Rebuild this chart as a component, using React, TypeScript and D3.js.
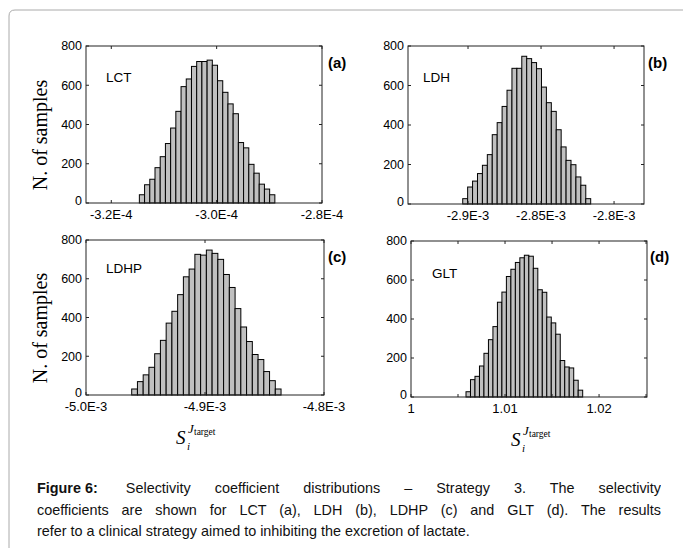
import React from "react";
import * as d3 from "d3";

// histogram counts (left to right)
const countsA = [42, 93, 121, 180, 236, 303, 382, 467, 593, 632, 696, 721, 721, 728, 702, 623, 564, 505, 455, 308, 281, 197, 152, 96, 71, 42];
const countsB = [27, 86, 116, 154, 196, 250, 351, 412, 494, 576, 687, 687, 748, 736, 716, 685, 592, 513, 469, 376, 289, 221, 199, 137, 95, 27];
const countsC = [31, 69, 104, 143, 213, 282, 371, 432, 518, 610, 650, 726, 722, 748, 731, 700, 622, 555, 446, 351, 276, 209, 183, 121, 74, 31];
const countsD = [27, 89, 106, 159, 224, 294, 361, 486, 538, 618, 655, 690, 714, 727, 722, 660, 550, 537, 410, 380, 322, 187, 154, 149, 86, 35];

// range covered by the bins [first edge, last edge]
const binsA = [-3.1467e-4, -2.8895e-4];
const binsB = [-2.90363e-3, -2.816e-3];
const binsC = [-4.9616e-3, -4.8361e-3];
const binsD = [1.00585, 1.01826];

const xDomA = [-3.248e-4, -2.8e-4];
const xDomB = [-2.9411e-3, -2.7795e-3];
const xDomC = [-5.0e-3, -4.8e-3];
const xDomD = [1.0, 1.0251];

const ticksA = [-3.2e-4, -3.0e-4, -2.8e-4];
const tickLabelsA = ["-3.2E-4", "-3.0E-4", "-2.8E-4"];
const ticksB = [-2.9e-3, -2.85e-3, -2.8e-3];
const tickLabelsB = ["-2.9E-3", "-2.85E-3", "-2.8E-3"];
const ticksC = [-5.0e-3, -4.9e-3, -4.8e-3];
const tickLabelsC = ["-5.0E-3", "-4.9E-3", "-4.8E-3"];
const ticksD = [1.0, 1.005, 1.01, 1.015, 1.02, 1.025];
const tickLabelsD = ["1", "", "1.01", "", "1.02", ""];

const yTicks = [0, 200, 400, 600, 800];

const names = ["LCT", "LDH", "LDHP", "GLT"];
const letters = ["(a)", "(b)", "(c)", "(d)"];

const captionLines = [
  "Selectivity coefficient distributions \u2013 Strategy 3. The selectivity",
  "coefficients are shown for LCT (a), LDH (b), LDHP (c) and GLT (d). The results",
  "refer to a clinical strategy aimed to inhibiting the excretion of lactate.",
];

const sans = "Arial, 'Liberation Sans', sans-serif";
const serif = "'Times New Roman', 'Liberation Serif', serif";

function Panel(props) {
  const { x0, x1, y0, y1, xDom, bins, counts, ticks, tickLabels, name, letter, nameX, nameY, letterX, letterY } = props;
  const x = d3.scaleLinear().domain(xDom).range([x0, x1]);
  const y = d3.scaleLinear().domain([0, 800]).range([y1, y0]);
  const edges = d3.scaleLinear().domain([0, counts.length]).range(bins);
  const tl = 3;
  return (
    <g>
      {counts.map((c, i) => (
        <rect
          key={i}
          x={x(edges(i))}
          y={y(c)}
          width={x(edges(i + 1)) - x(edges(i))}
          height={y(0) - y(c)}
          fill="#c0c0c0"
          stroke="#000"
          strokeWidth={1}
        />
      ))}
      <rect x={x0} y={y0} width={x1 - x0} height={y1 - y0} fill="none" stroke="#222" strokeWidth={1} />
      {yTicks.map((t) => (
        <g key={t}>
          <line x1={x0} x2={x0 + tl} y1={y(t)} y2={y(t)} stroke="#222" />
          <line x1={x1} x2={x1 - tl} y1={y(t)} y2={y(t)} stroke="#222" />
          <text x={x0 - 4} y={y(t) - (t === 0 ? 2 : 0)} dy="0.35em" textAnchor="end" fontFamily={sans} fontSize={12.5}>
            {t}
          </text>
        </g>
      ))}
      {ticks.map((t, i) => (
        <g key={i}>
          <line x1={x(t)} x2={x(t)} y1={y1} y2={y1 - tl} stroke="#222" />
          <line x1={x(t)} x2={x(t)} y1={y0} y2={y0 + tl} stroke="#222" />
          <text x={x(t)} y={y1 + 16} textAnchor="middle" fontFamily={sans} fontSize={13}>
            {tickLabels[i]}
          </text>
        </g>
      ))}
      <text x={nameX} y={nameY} dy="0.35em" fontFamily={sans} fontSize={13.5}>
        {name}
      </text>
      <text x={letterX} y={letterY} dy="0.35em" fontFamily={sans} fontSize={15} fontWeight="bold">
        {letter}
      </text>
    </g>
  );
}

function XLabel({ x, y }) {
  return (
    <g fontFamily={serif}>
      <text x={x} y={y} fontSize={19} fontStyle="italic">S</text>
      <text x={x + 11} y={y + 6} fontSize={11} fontStyle="italic">i</text>
      <text x={x + 12} y={y - 11} fontSize={13} fontStyle="italic">J</text>
      <text x={x + 18} y={y - 9} fontSize={9.5}>target</text>
    </g>
  );
}

export default function App() {
  return (
    <svg width={683} height={548} style={{ position: "absolute", left: 0, top: 0, background: "#fff" }}>
      <path d="M 9 700 L 9 16 Q 9 10 15 10 L 700 10" fill="none" stroke="#aaa" strokeWidth={1} />
      <Panel x0={86} x1={322} y0={46} y1={203} xDom={xDomA} bins={binsA} counts={countsA} ticks={ticksA} tickLabels={tickLabelsA}
        name={names[0]} letter={letters[0]} nameX={106} nameY={77} letterX={328} letterY={63} />
      <Panel x0={408} x1={644} y0={46} y1={204} xDom={xDomB} bins={binsB} counts={countsB} ticks={ticksB} tickLabels={tickLabelsB}
        name={names[1]} letter={letters[1]} nameX={423} nameY={77} letterX={648} letterY={63} />
      <Panel x0={86} x1={324} y0={240} y1={395} xDom={xDomC} bins={binsC} counts={countsC} ticks={ticksC} tickLabels={tickLabelsC}
        name={names[2]} letter={letters[2]} nameX={106} nameY={268} letterX={328} letterY={257} />
      <Panel x0={411} x1={647} y0={241} y1={397} xDom={xDomD} bins={binsD} counts={countsD} ticks={ticksD} tickLabels={tickLabelsD}
        name={names[3]} letter={letters[3]} nameX={432} nameY={273} letterX={650} letterY={257} />
      <text transform="translate(47,135) rotate(-90)" textAnchor="middle" fontFamily={serif} fontSize={20}>
        N. of samples
      </text>
      <text transform="translate(47,328) rotate(-90)" textAnchor="middle" fontFamily={serif} fontSize={20}>
        N. of samples
      </text>
      <XLabel x={176} y={444} />
      <XLabel x={511} y={446} />
      <foreignObject x={37} y={478} width={624} height={70}>
        <div style={{ fontFamily: sans, fontSize: "14.4px", lineHeight: "21.5px", color: "#111" }}>
          {captionLines.map((l, i) => (
            <div key={i} style={{ textAlign: "justify", textAlignLast: i < 2 ? "justify" : "left", whiteSpace: "nowrap" }}>
              {i === 0 ? <b style={{ display: "inline-block", marginRight: "4px" }}>Figure 6:</b> : null}
              {i === 0 ? " " : null}
              {l}
            </div>
          ))}
        </div>
      </foreignObject>
    </svg>
  );
}
